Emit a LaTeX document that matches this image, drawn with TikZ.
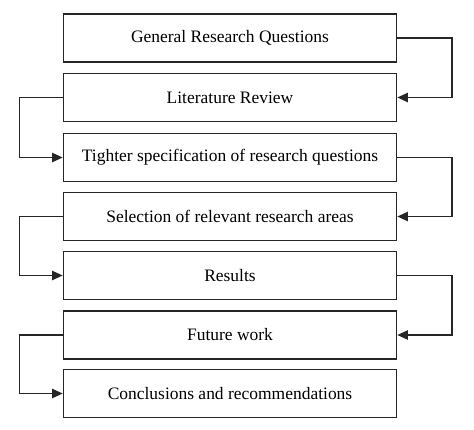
\documentclass[tikz,border=0pt]{standalone}
\usepackage{fontspec}
\setmainfont{Liberation Serif}
\usetikzlibrary{arrows.meta}
\begin{document}
\begin{tikzpicture}[x=0.75pt,y=-0.75pt,
  stage/.style={draw=black!85, line width=1.2pt, minimum width=249.75pt, minimum height=36pt, inner sep=0pt, font=\fontsize{13.1}{15}\selectfont, anchor=center},
  conn/.style={draw=black!85, line width=1.2pt, -{Triangle[length=8pt,width=7pt]}}]
\useasboundingbox (0,0) rectangle (474,429);
\node[stage] (b1) at (230,38) {General Research Questions};
\node[stage] (b2) at (230,97.5) {Literature Review};
\node[stage] (b3) at (230,157.5) {Tighter specification of research questions};
\node[stage] (b4) at (230,216.5) {Selection of relevant research areas};
\node[stage] (b5) at (230,275.5) {Results};
\node[stage] (b6) at (230,335) {Future work};
\node[stage] (b7) at (230,393.5) {Conclusions and recommendations};
\coordinate (r) at (452,0);
\coordinate (l) at (19.5,0);
\draw[conn] (b1.east) -- (b1.east -| r) -- (b2.east -| r) -- (b2.east);
\draw[conn] (b2.west) -- (b2.west -| l) -- (b3.west -| l) -- (b3.west);
\draw[conn] (b3.east) -- (b3.east -| r) -- (b4.east -| r) -- (b4.east);
\draw[conn] (b4.west) -- (b4.west -| l) -- (b5.west -| l) -- (b5.west);
\draw[conn] (b5.east) -- (b5.east -| r) -- (b6.east -| r) -- (b6.east);
\draw[conn] (b6.west) -- (b6.west -| l) -- (b7.west -| l) -- (b7.west);
\end{tikzpicture}
\end{document}
